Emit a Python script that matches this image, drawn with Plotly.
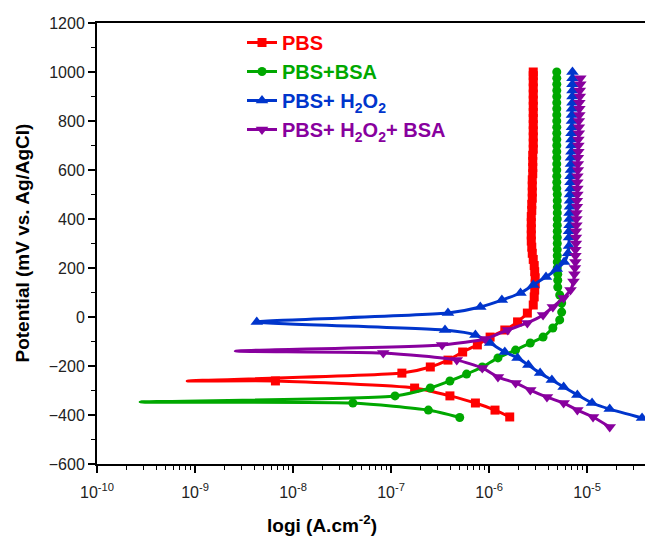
import numpy as np
import plotly.graph_objects as go

# ---------------- data (log10 of current density in A/cm2, potential in mV) ----------------
series_names = ["PBS", "PBS+BSA", "PBS+ H<sub>2</sub>O<sub>2</sub>", "PBS+ H<sub>2</sub>O<sub>2</sub>+ BSA"]

# PBS
pbs_ecorr_logi = -9.08
pbs_ecorr_E = -261
pbs_cath_logi = [-8.18, -6.76, -6.40, -6.14, -5.94, -5.79]
pbs_cath_E = [-261, -290, -322, -351, -380, -408]
pbs_anod_logi = [-6.89, -6.60, -6.42, -6.27, -6.12, -5.99, -5.84, -5.71,
                 -5.61, -5.55, -5.54, -5.535, -5.53, -5.53, -5.535, -5.54, -5.55, -5.56,
                 -5.565, -5.57, -5.57, -5.57, -5.57, -5.57, -5.565, -5.565, -5.56, -5.56,
                 -5.56, -5.56, -5.555, -5.555, -5.555, -5.555, -5.55, -5.55, -5.55, -5.55,
                 -5.55, -5.55, -5.55, -5.55, -5.55, -5.55, -5.55, -5.55, -5.55, -5.55]
pbs_anod_E = [-229, -204, -176, -143, -114, -82, -53, -20,
              16, 49, 82, 110, 135, 160, 185, 210, 235, 260,
              285, 310, 335, 360, 385, 410, 435, 460, 485, 510,
              535, 560, 585, 610, 635, 660, 685, 710, 735, 760,
              785, 810, 835, 860, 885, 910, 935, 960, 985, 1000]

# PBS+BSA
bsa_ecorr_logi = -9.56
bsa_ecorr_E = -347
bsa_cath_logi = [-7.39, -6.62, -6.30]
bsa_cath_E = [-351, -380, -410]
bsa_anod_logi = [-6.96, -6.60, -6.40, -6.23, -6.07, -5.91, -5.73, -5.58, -5.45, -5.35, -5.28,
                 -5.26, -5.26, -5.28, -5.30,
                 -5.30, -5.30, -5.305,
                 -5.305, -5.305, -5.305, -5.305, -5.305, -5.305, -5.305, -5.305, -5.305, -5.305, -5.305, -5.305,
                 -5.31, -5.31, -5.31, -5.31, -5.31, -5.31, -5.31, -5.31, -5.31, -5.31,
                 -5.31, -5.31, -5.31, -5.31, -5.31, -5.31, -5.31, -5.31, -5.31, -5.31]
bsa_anod_E = [-322, -290, -261, -233, -204, -167, -135, -106, -82, -45, -12,
              20, 57, 90, 122,
              150, 175, 200,
              225, 250, 275, 300, 325, 350, 375, 400, 425, 450, 475, 500,
              525, 550, 575, 600, 625, 650, 675, 700, 725, 750,
              775, 800, 825, 850, 875, 900, 925, 950, 975, 1000]

# PBS+H2O2
h2o2_ecorr_logi = -8.37
h2o2_ecorr_E = -20
h2o2_cath_logi = [-6.45, -6.14, -5.99, -5.84, -5.71, -5.60, -5.48, -5.36, -5.24, -5.10, -4.95, -4.77, -4.44]
h2o2_cath_E = [-53, -73, -106, -143, -167, -196, -229, -257, -286, -318, -351, -376, -412]
h2o2_anod_logi = [-6.42, -6.09, -5.87, -5.68, -5.55, -5.42, -5.31, -5.235, -5.195, -5.185,
                  -5.185, -5.185, -5.18, -5.18, -5.18, -5.175, -5.175, -5.175, -5.17, -5.17, -5.17,
                  -5.165, -5.165, -5.165, -5.16, -5.16, -5.16, -5.16, -5.155, -5.155, -5.155, -5.155,
                  -5.15, -5.15, -5.15, -5.15, -5.15, -5.15]
h2o2_anod_E = [16, 41, 69, 98, 131, 163, 196, 224, 260, 290,
               325, 350, 375, 400, 425, 450, 475, 500, 525, 550, 575,
               600, 625, 650, 675, 700, 725, 750, 775, 800, 825, 850,
               875, 900, 925, 950, 975, 1000]

# PBS+H2O2+BSA
mix_ecorr_logi = -8.59
mix_ecorr_E = -139
mix_cath_logi = [-7.08, -6.33, -6.07, -5.91, -5.73, -5.58, -5.41, -5.24, -5.10, -4.94, -4.77]
mix_cath_E = [-147, -176, -208, -245, -269, -298, -327, -351, -380, -408, -449]
mix_anod_logi = [-6.48, -6.04, -5.81, -5.61, -5.45, -5.35, -5.24, -5.17, -5.14, -5.13,
                 -5.125, -5.12, -5.12, -5.12, -5.115, -5.115, -5.115, -5.11, -5.11, -5.11,
                 -5.105, -5.105, -5.10, -5.10, -5.10, -5.10, -5.095, -5.095, -5.095,
                 -5.09, -5.09, -5.09, -5.085, -5.085, -5.085, -5.08, -5.08, -5.08,
                 -5.075, -5.075, -5.07, -5.07]
mix_anod_E = [-114, -90, -53, -24, 8, 41, 78, 110, 145, 175,
              200, 225, 250, 275, 300, 325, 350, 375, 400, 425,
              450, 475, 500, 525, 550, 575, 600, 625, 650,
              675, 700, 725, 750, 775, 800, 825, 850, 875,
              900, 925, 950, 975]

x_tick_vals = [1e-10, 1e-9, 1e-8, 1e-7, 1e-6, 1e-5]
x_tick_text = ["10<sup>-10</sup>", "10<sup>-9</sup>", "10<sup>-8</sup>", "10<sup>-7</sup>",
               "10<sup>-6</sup>", "10<sup>-5</sup>"]
y_tick_vals = [-600, -400, -200, 0, 200, 400, 600, 800, 1000, 1200]

# ---------------- styling ----------------
colors = ["#FF0000", "#00A800", "#0035CC", "#88009E"]
symbols = ["square", "circle", "triangle-up", "triangle-down"]
msizes = [9, 9, 11, 11]
tip_marked = [False, False, True, False]

data = [
    (pbs_cath_logi, pbs_cath_E, pbs_ecorr_logi, pbs_ecorr_E, pbs_anod_logi, pbs_anod_E),
    (bsa_cath_logi, bsa_cath_E, bsa_ecorr_logi, bsa_ecorr_E, bsa_anod_logi, bsa_anod_E),
    (h2o2_cath_logi, h2o2_cath_E, h2o2_ecorr_logi, h2o2_ecorr_E, h2o2_anod_logi, h2o2_anod_E),
    (mix_cath_logi, mix_cath_E, mix_ecorr_logi, mix_ecorr_E, mix_anod_logi, mix_anod_E),
]

fig = go.Figure()
for i, (cl, ce, tl, te, al, ae) in enumerate(data):
    line_l = list(cl[::-1]) + [tl] + list(al)
    line_e = list(ce[::-1]) + [te] + list(ae)
    if tip_marked[i]:
        mk_l, mk_e = line_l, line_e
    else:
        mk_l = list(cl[::-1]) + list(al)
        mk_e = list(ce[::-1]) + list(ae)
    fig.add_trace(go.Scatter(x=10 ** np.array(line_l), y=line_e, mode="lines",
                             line=dict(color=colors[i], width=3, shape="spline", smoothing=0.6),
                             showlegend=False, hoverinfo="skip"))
    fig.add_trace(go.Scatter(x=10 ** np.array(mk_l), y=mk_e, mode="markers",
                             marker=dict(color=colors[i], symbol=symbols[i], size=msizes[i], line=dict(width=0)),
                             showlegend=False))

for i, name in enumerate(series_names):
    fig.add_trace(go.Scatter(x=[None], y=[None], mode="lines+markers",
                             name=f'<span style="color:{colors[i]}">{name}</span>',
                             line=dict(color=colors[i], width=3),
                             marker=dict(color=colors[i], symbol=symbols[i], size=msizes[i])))

fig.update_layout(
    width=645, height=536,
    margin=dict(l=97, r=0, t=23, b=72),
    plot_bgcolor="white", paper_bgcolor="white",
    font=dict(family="Arial, Liberation Sans, sans-serif", size=16, color="#222222"),
    legend=dict(x=(242 - 97) / 548, y=1.0, xanchor="left", yanchor="top", bgcolor="rgba(0,0,0,0)",
                font=dict(size=20, weight="bold"), tracegroupgap=0),
)
fig.update_xaxes(type="log", range=[-10, -4.41], tickmode="array", tickvals=x_tick_vals, ticktext=x_tick_text,
                 ticks="outside", ticklen=7, tickwidth=1.5, tickcolor="black", ticklabelstandoff=6,
                 showline=True, linecolor="black", linewidth=2, mirror=True, showgrid=False, zeroline=False,
                 minor=dict(ticks="outside", ticklen=4, tickwidth=1.2, tickcolor="black", dtick="D1", showgrid=False),
                 tickfont=dict(size=16))
fig.update_yaxes(range=[-600, 1200], tickmode="array", tickvals=y_tick_vals,
                 ticks="outside", ticklen=7, tickwidth=1.5, tickcolor="black",
                 showline=True, linecolor="black", linewidth=2, showgrid=False, zeroline=False,
                 minor=dict(ticks="outside", ticklen=4, tickwidth=1.2, tickcolor="black", dtick=100, showgrid=False),
                 tickfont=dict(size=16))

fig.add_annotation(text="<b>Potential (mV vs. Ag/AgCl)</b>", xref="paper", yref="paper",
                   x=(22 - 97) / 548, y=0.5, textangle=-90, showarrow=False,
                   font=dict(size=19, color="black"), xanchor="center", yanchor="middle")
fig.add_annotation(text="<b>logi (A.cm<sup>-2</sup>)</b>", xref="paper", yref="paper",
                   x=(322 - 97) / 548, y=(464 - 524) / 441, showarrow=False,
                   font=dict(size=19, color="black"), xanchor="center", yanchor="middle")

fig.write_html("out.html", config={"displayModeBar": False},
               post_script="document.body.style.margin='0';document.body.style.overflow='hidden';")
